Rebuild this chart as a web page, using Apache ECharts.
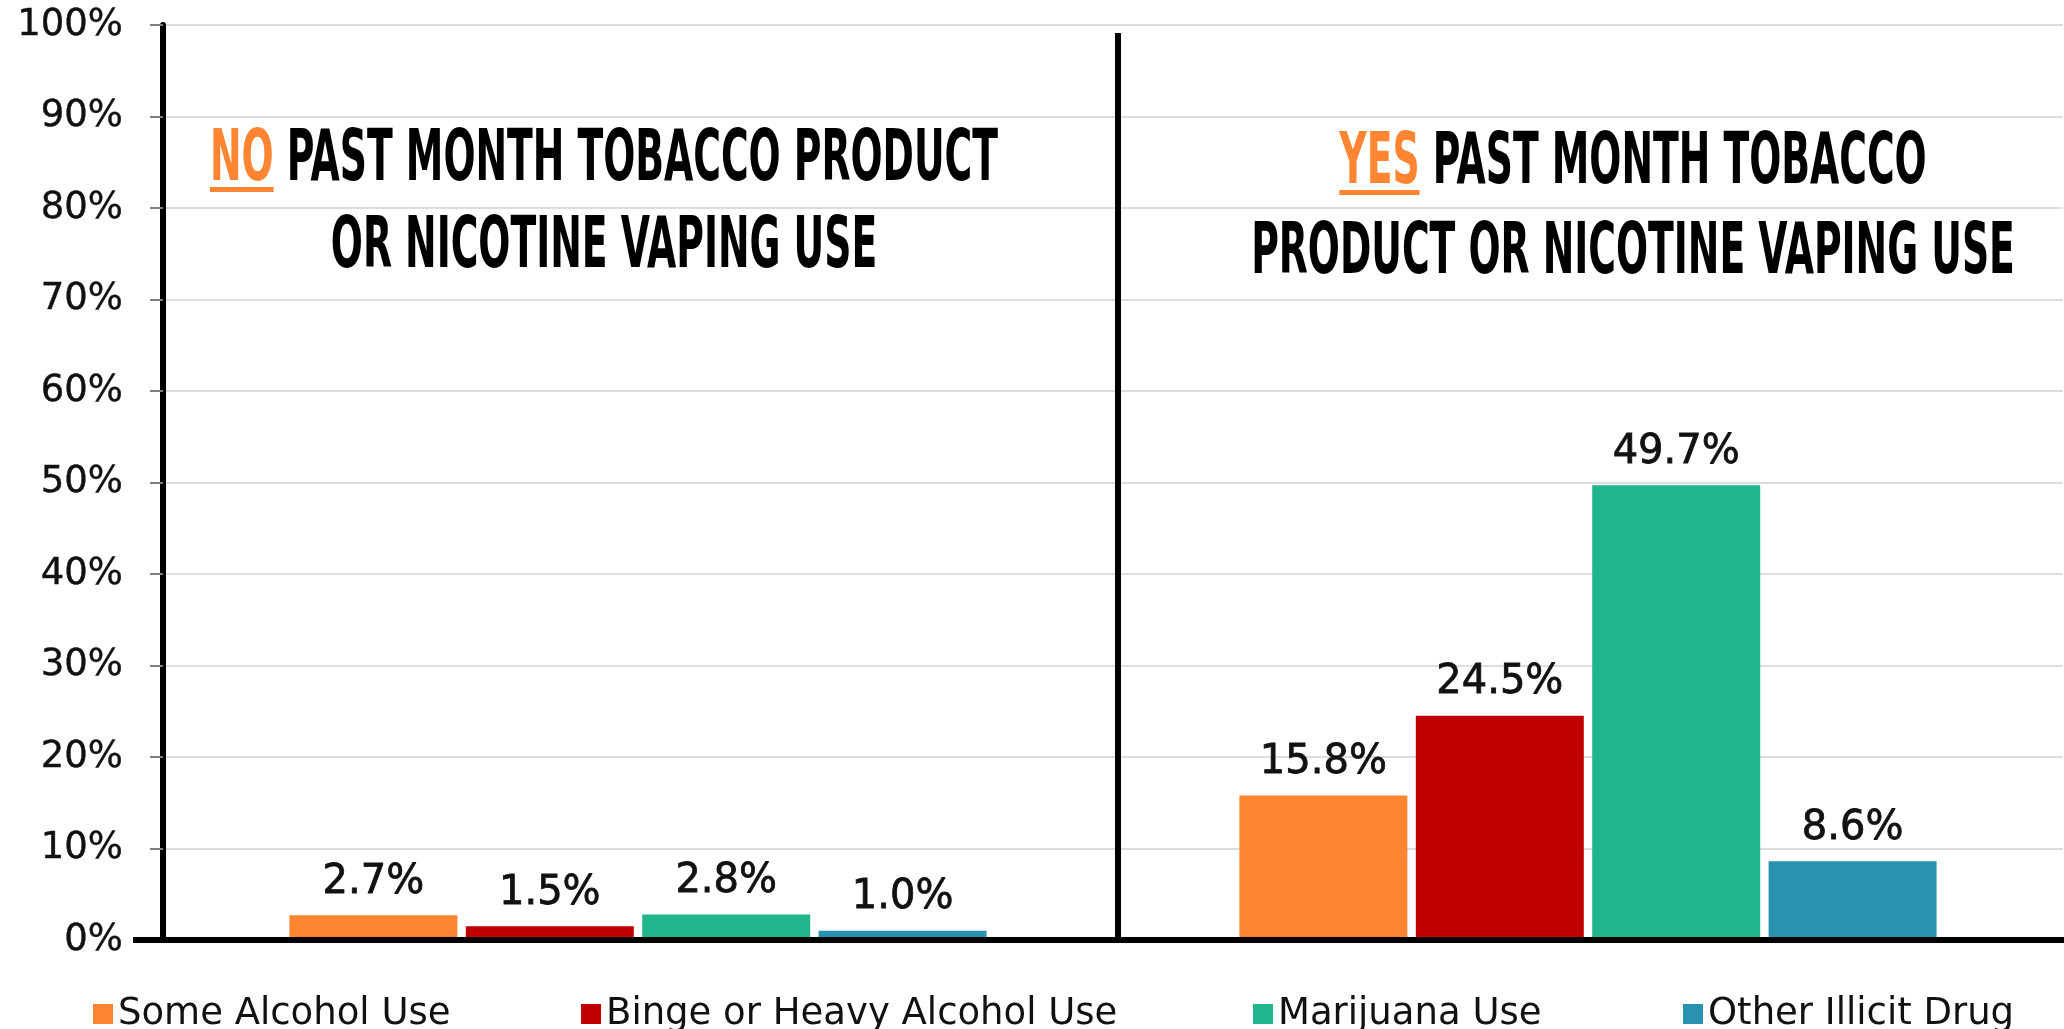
<!DOCTYPE html>
<html>
<head>
<meta charset="utf-8">
<title>Past month substance use by tobacco / nicotine vaping use</title>
<script src="https://cdn.jsdelivr.net/npm/echarts@6/dist/echarts.min.js"></script>
<style>
  html, body { margin: 0; padding: 0; background: #ffffff; }
  #chart { width: 2064px; height: 1029px; }
</style>
</head>
<body>
<div id="chart"></div>
<script>
// Past month tobacco product or nicotine vaping use (group)
const categories = ['No', 'Yes'];

// Series names, in legend order
const seriesNames = ['Some Alcohol Use', 'Binge or Heavy Alcohol Use', 'Marijuana Use', 'Other Illicit Drug'];

// Percentages for each group: [No, Yes]
const someAlcohol = [2.7, 15.8];
const bingeAlcohol = [1.5, 24.5];
const marijuana = [2.8, 49.7];
const otherIllicit = [1.0, 8.6];

// Value axis tick range
const yMin = 0;
const yMax = 100;
const yStep = 10;

const seriesValues = [someAlcohol, bingeAlcohol, marijuana, otherIllicit];
const colors = ['#FD8430', '#C00000', '#21B58C', '#2892AF'];
const ACCENT = '#FF8533';
const BODY_FONT = "'DejaVu Sans', 'Noto Sans', sans-serif";
const HEAD_FAMILY = "'DejaVu Sans Condensed', 'DejaVu Sans', sans-serif";
const HEAD_SIZE = 72;
const HEAD_FONT = 'bold ' + HEAD_SIZE + 'px ' + HEAD_FAMILY;

const chart = echarts.init(document.getElementById('chart'), null, { renderer: 'canvas' });

const option = {
  backgroundColor: '#ffffff',
  animation: false,
  grid: { left: 163, right: 1, top: 25, bottom: 89, containLabel: false },
  legend: seriesNames.map((name, i) => ({
    data: [name],
    left: [88, 576, 1248, 1678][i],
    top: 988,
    orient: 'horizontal',
    icon: 'rect',
    itemWidth: 20,
    itemHeight: 20,
    selectedMode: false,
    textStyle: {
      fontFamily: BODY_FONT,
      fontSize: 37,
      lineHeight: 42,
      color: '#111111'
    }
  })),
  xAxis: {
    type: 'category',
    data: categories,
    axisLine: { show: true, lineStyle: { color: '#000000', width: 6 } },
    axisTick: { show: false },
    axisLabel: { show: false },
    splitLine: { show: false },
    z: 5
  },
  yAxis: {
    type: 'value',
    min: yMin,
    max: yMax,
    interval: yStep,
    axisLine: { show: true, lineStyle: { color: '#000000', width: 6 } },
    axisTick: { show: true, length: 13, lineStyle: { color: '#7f7f7f', width: 2 } },
    axisLabel: {
      margin: 40,
      fontFamily: BODY_FONT,
      fontSize: 37,
      color: '#111111',
      textBorderColor: '#111111',
      textBorderWidth: 0.4,
      formatter: '{value}%'
    },
    splitLine: { show: true, lineStyle: { color: '#dddddd', width: 2 } }
  },
  series: seriesNames.map((name, i) => ({
    name: name,
    type: 'bar',
    data: seriesValues[i],
    barWidth: 168,
    barGap: '5%',
    itemStyle: { color: colors[i] },
    label: {
      show: true,
      position: 'top',
      distance: 13,
      fontFamily: BODY_FONT,
      fontSize: 40,
      color: '#111111',
      textBorderColor: '#111111',
      textBorderWidth: 0.8,
      formatter: (p) => p.value.toFixed(1) + '%'
    }
  }))
};

chart.setOption(option);

// ---- decorations: divider, axis extension and group headings ----
const measureCtx = document.createElement('canvas').getContext('2d');
function textWidth(t) {
  measureCtx.font = HEAD_FONT;
  return measureCtx.measureText(t).width;
}

const pNo = chart.convertToPixel({ gridIndex: 0 }, [0, yMin]);
const pYes = chart.convertToPixel({ gridIndex: 0 }, [1, yMin]);
const yTopPx = chart.convertToPixel({ yAxisIndex: 0 }, yMax);
const baseY = pNo[1];
const gridLeft = option.grid.left;
const dividerX = (pNo[0] + pYes[0]) / 2 + 5;

// common horizontal squeeze so the condensed headings fit their columns
const headScale = 788 / textWidth('NO PAST MONTH TOBACCO PRODUCT');

function headingLine(cx, cy, accent, rest) {
  const wa = accent ? textWidth(accent) : 0;
  const wr = textWidth(rest);
  const total = wa + wr;
  const children = [];
  if (accent) {
    children.push({
      type: 'text',
      x: 0, y: cy + 5,
      style: { text: accent, font: HEAD_FONT, fill: ACCENT, align: 'left', verticalAlign: 'middle' }
    });
    children.push({
      type: 'rect',
      shape: { x: 0, y: cy + 31, width: wa, height: 5 },
      style: { fill: ACCENT }
    });
  }
  children.push({
    type: 'text',
    x: wa, y: cy + 5,
    style: { text: rest, font: HEAD_FONT, fill: '#000000', align: 'left', verticalAlign: 'middle' }
  });
  return {
    type: 'group',
    x: cx - headScale * total / 2,
    y: 0,
    scaleX: headScale,
    children: children
  };
}

chart.setOption({
  graphic: [
    {
      type: 'line',
      shape: { x1: dividerX, y1: yTopPx + 8, x2: dividerX, y2: baseY },
      style: { stroke: '#000000', lineWidth: 6 },
      z: 10
    },
    {
      type: 'line',
      shape: { x1: 133, y1: baseY, x2: gridLeft, y2: baseY },
      style: { stroke: '#000000', lineWidth: 6 },
      z: 10
    },
    headingLine(604, 156, 'NO', ' PAST MONTH TOBACCO PRODUCT'),
    headingLine(604, 243, '', 'OR NICOTINE VAPING USE'),
    headingLine(1633, 159, 'YES', ' PAST MONTH TOBACCO'),
    headingLine(1633, 249, '', 'PRODUCT OR NICOTINE VAPING USE')
  ]
});
</script>
</body>
</html>
